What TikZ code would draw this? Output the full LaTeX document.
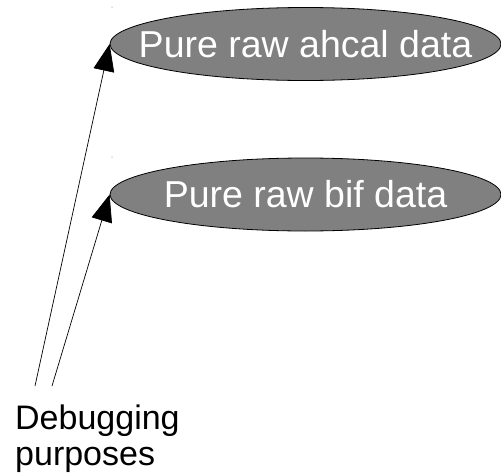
\documentclass[tikz,border=0pt]{standalone}
\usepackage{fontspec}
\setmainfont{Liberation Sans}
\usetikzlibrary{shapes.geometric,arrows.meta}
\begin{document}
\begin{tikzpicture}[x=1pt,y=-1pt,
  blob/.style={ellipse, draw=black, line width=0.8pt, fill=black!50,
    minimum width=391pt, minimum height=73pt, inner sep=0pt},
  blobtext/.style={text=white, font=\fontsize{37.5}{37.5}\selectfont, inner sep=0pt},
  conn/.style={draw=black, line width=0.7pt, -{Triangle[length=27pt,width=21pt]}}]
\useasboundingbox (0,0) rectangle (501,474);
\node[blob, label={[blobtext]center:Pure raw ahcal data}] (ahcal) at (305.5,44) {};
\node[blob, label={[blobtext]center:Pure raw bif data}] (bif) at (305.5,194.5) {};
\coordinate (d1) at (35,386);
\coordinate (d2) at (52,386);
\node[anchor=base west, align=left, inner sep=0pt, font=\fontsize{34}{36}\selectfont] (dbg) at (15,465) {Debugging\\purposes};
\draw[conn] (d1) -- (ahcal.west);
\draw[conn] (d2) -- (bif.west);
\fill[black!60] (112,7) circle (0.5pt);
\fill[black!60] (112,157) circle (0.5pt);
\end{tikzpicture}
\end{document}
